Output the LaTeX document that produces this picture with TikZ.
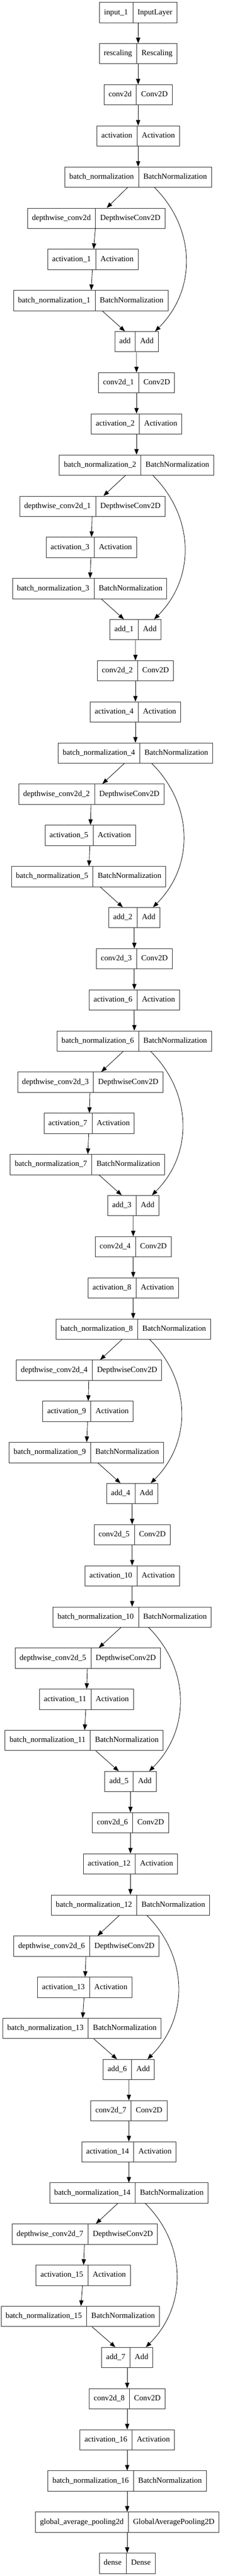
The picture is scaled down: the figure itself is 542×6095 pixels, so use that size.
\documentclass[tikz,border=0pt]{standalone}
\usepackage{fontspec}
\setmainfont{Liberation Serif}
\usetikzlibrary{shapes.multipart,arrows.meta,calc}
\newcommand\rs{\rule[-4.5pt]{0pt}{18pt}}
\newcommand\rec[5]{\node[rec] (#1) at (#2,{-(29.7+97.34*(#3))}) {\rs #4\nodepart{two}\rs #5};}
\begin{document}
\begin{tikzpicture}[x=1pt,y=1pt,
  rec/.style={draw=black!85, line width=1pt, rectangle split, rectangle split horizontal,
    rectangle split parts=2, inner xsep=10.67pt, inner ysep=15pt,
    font=\fontsize{18.5}{22}\selectfont, text=black},
  arr/.style={draw=black, line width=1pt, -{Triangle[length=13.3pt,width=10pt]}}]
\fill[white] (0,0) rectangle (542,-6095);
\useasboundingbox (0,0) rectangle (542,-6095);

\rec{inp}{326}{0}{input\_1}{InputLayer}
\rec{resc}{325.8}{1}{rescaling}{Rescaling}
\rec{c0}{325.8}{2}{conv2d}{Conv2D}
\rec{a0}{325.8}{3}{activation}{Activation}
\rec{M0}{325.8}{4}{batch\_normalization}{BatchNormalization}
\draw[arr] (inp) -- (resc);
\draw[arr] (resc) -- (c0);
\draw[arr] (c0) -- (a0);
\draw[arr] (a0) -- (M0);

\foreach \k/\dx/\ax/\bx/\addx/\mx in {
  0/226.8/219/214/321.8/322,
  1/217.8/215.3/211.5/319.5/319.4,
  2/215.3/212.7/209/316.8/316.8,
  3/212.7/210.2/206.2/314.3/314.2,
  4/210/207.5/203.5/311.5/311.7,
  5/206.8/203.6/198.4/307.7/307.7,
  6/203.7/199.8/193.3/303.8/304,
  7/200/196.2/189.3/300/300}{
  \pgfmathtruncatemacro\aL{2*\k+1}
  \pgfmathtruncatemacro\aM{2*\k+2}
  \pgfmathtruncatemacro\kn{\k+1}
  \pgfmathtruncatemacro\r{5+7*\k}
  \rec{dw\k}{\dx}{\r}{\ifnum\k=0 depthwise\_conv2d\else depthwise\_conv2d\_\k\fi}{DepthwiseConv2D}
  \rec{la\k}{\ax}{\r+1}{activation\_\aL}{Activation}
  \rec{lb\k}{\bx}{\r+2}{batch\_normalization\_\aL}{BatchNormalization}
  \rec{add\k}{\addx}{\r+3}{\ifnum\k=0 add\else add\_\k\fi}{Add}
  \rec{cv\k}{\mx}{\r+4}{conv2d\_\kn}{Conv2D}
  \rec{ma\k}{\mx}{\r+5}{activation\_\aM}{Activation}
  \rec{M\kn}{\mx}{\r+6}{batch\_normalization\_\aM}{BatchNormalization}
  \draw[arr] (M\k) -- (dw\k);
  \draw[arr] (dw\k) -- (la\k);
  \draw[arr] (la\k) -- (lb\k);
  \draw[arr] (lb\k) -- (add\k);
  \draw[arr] ([xshift=38.5pt]M\k.south) .. controls +(98,-98) and +(98,98) .. ([xshift=44pt]add\k.north);
  \draw[arr] (add\k) -- (cv\k);
  \draw[arr] (cv\k) -- (ma\k);
  \draw[arr] (ma\k) -- (M\kn);
}

\rec{gap}{300}{61}{global\_average\_pooling2d}{GlobalAveragePooling2D}
\rec{dense}{300}{62}{dense}{Dense}
\draw[arr] (M8) -- (gap);
\draw[arr] (gap) -- (dense);
\end{tikzpicture}
\end{document}
